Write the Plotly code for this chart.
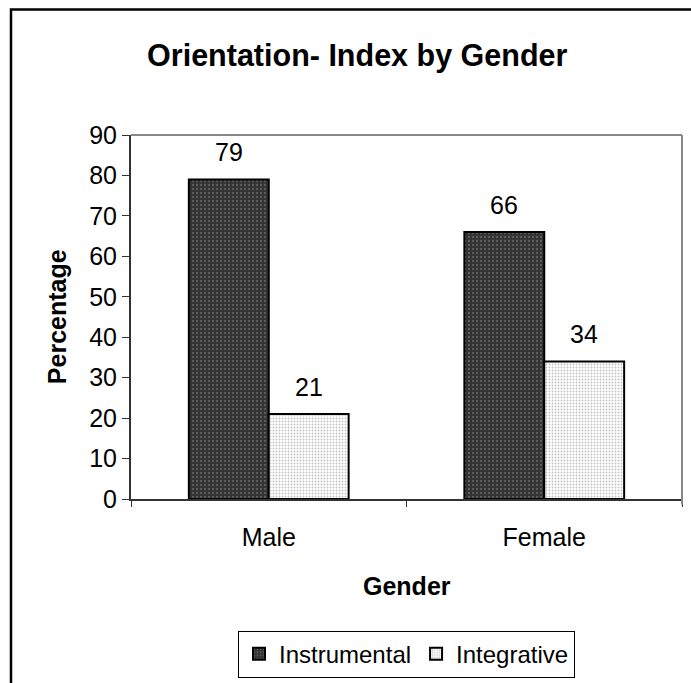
import plotly.graph_objects as go

categories = ["Male", "Female"]
instrumental = [79, 66]
integrative = [21, 34]
series_names = ["Instrumental", "Integrative"]
y_ticks = [0, 10, 20, 30, 40, 50, 60, 70, 80, 90]

FONT = "Liberation Sans, Arial, sans-serif"
FS = 25

fig = go.Figure()
fig.add_trace(go.Bar(
    x=categories, y=instrumental, name=series_names[0],
    marker=dict(color="#333333", line=dict(color="black", width=2),
                pattern=dict(shape=".", bgcolor="#333333", fgcolor="#5e5e5e",
                             size=4, solidity=0.25, fillmode="replace")),
))
fig.add_trace(go.Bar(
    x=categories, y=integrative, name=series_names[1],
    marker=dict(color="white", line=dict(color="black", width=2),
                pattern=dict(shape=".", bgcolor="white", fgcolor="#c4c4c4",
                             size=3, solidity=0.3, fillmode="replace")),
))

annotations = []
for vals, shift in [(instrumental, -40), (integrative, 40)]:
    for c, v in zip(categories, vals):
        annotations.append(dict(x=c, y=v, xref="x", yref="y", text=str(v),
                                showarrow=False, xshift=shift, yshift=27,
                                font=dict(size=FS, color="black", family=FONT)))
annotations.append(dict(x=-0.134, y=0.5, xref="paper", yref="paper", text="<b>Percentage</b>",
                        textangle=-90, showarrow=False, xanchor="center", yanchor="middle",
                        font=dict(size=FS, color="black", family=FONT)))
annotations.append(dict(x=0.5, y=-0.239, xref="paper", yref="paper", text="<b>Gender</b>",
                        showarrow=False, xanchor="center", yanchor="middle",
                        font=dict(size=FS, color="black", family=FONT)))

shapes = [
    # outer chart border (cropped at right/bottom)
    dict(type="rect", xref="paper", yref="paper", x0=-0.2178, x1=1.2, y0=-0.8, y1=1.345,
         line=dict(color="black", width=2.5), fillcolor="rgba(0,0,0,0)", layer="below"),
    # plot area top and right border
    dict(type="line", xref="paper", yref="paper", x0=0, x1=1, y0=1, y1=1,
         line=dict(color="#888888", width=2)),
    dict(type="line", xref="paper", yref="paper", x0=1, x1=1, y0=-0.015, y1=1,
         line=dict(color="#888888", width=2)),
]

fig.update_layout(
    width=691, height=683,
    margin=dict(l=131, r=9, t=135, b=184, autoexpand=False),
    paper_bgcolor="white", plot_bgcolor="white",
    barmode="group", bargap=0.42, bargroupgap=0,
    font=dict(family=FONT, size=FS, color="black"),
    title=dict(text="<b>Orientation- Index by Gender</b>", x=0.517, xref="container",
               xanchor="center", y=0.919, yref="container", yanchor="middle",
               font=dict(size=30.5, family=FONT, color="black")),
    showlegend=True,
    legend=dict(orientation="h", x=0.5, xanchor="center", y=-0.362, yanchor="top",
                bordercolor="black", borderwidth=1, bgcolor="white",
                font=dict(size=24, family=FONT, color="black"),
                tracegroupgap=0),
    annotations=annotations,
    shapes=shapes,
)
fig.update_xaxes(showline=True, linecolor="#333333", linewidth=2, ticks="outside",
                 tickson="boundaries", ticklen=6, tickcolor="#333333", tickwidth=1,
                 showgrid=False, tickfont=dict(size=FS, family=FONT, color="black"),
                 ticklabelstandoff=15, automargin=False)
fig.update_yaxes(range=[0, 90], tickvals=y_ticks, showline=True, linecolor="#333333",
                 linewidth=2, ticks="outside", ticklen=7, tickcolor="#333333", tickwidth=1,
                 showgrid=False, zeroline=False, automargin=False,
                 tickfont=dict(size=FS, family=FONT, color="black"))

fig.write_html("out.html", config={"displayModeBar": False},
               post_script="document.body.style.margin='0';")
